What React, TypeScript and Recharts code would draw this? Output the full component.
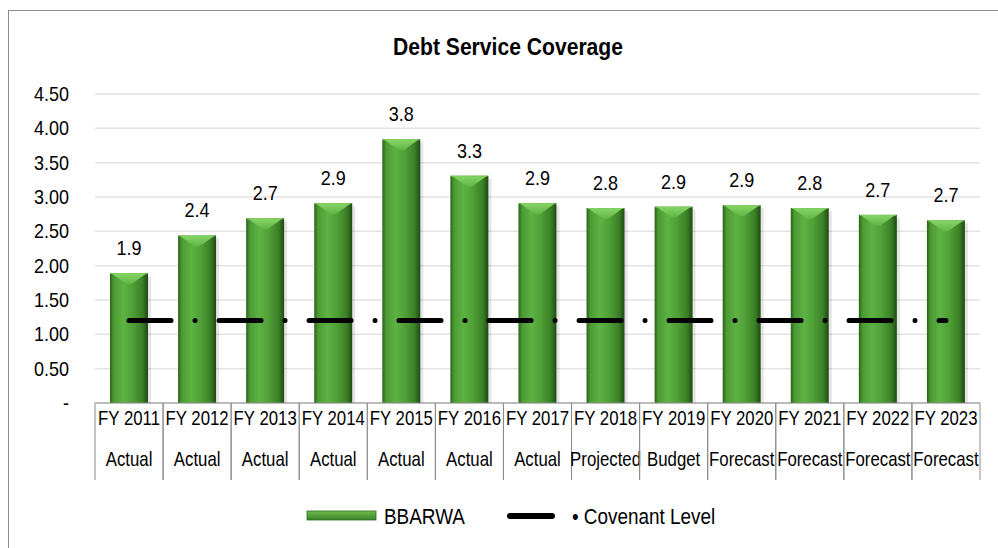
import React from 'react';
import { ComposedChart, Bar, Line, XAxis, YAxis, CartesianGrid, LabelList, Legend } from 'recharts';

const years = ['FY 2011', 'FY 2012', 'FY 2013', 'FY 2014', 'FY 2015', 'FY 2016', 'FY 2017', 'FY 2018', 'FY 2019', 'FY 2020', 'FY 2021', 'FY 2022', 'FY 2023'];
const phases = ['Actual', 'Actual', 'Actual', 'Actual', 'Actual', 'Actual', 'Actual', 'Projected', 'Budget', 'Forecast', 'Forecast', 'Forecast', 'Forecast'];
const bbarwa = [1.89, 2.44, 2.69, 2.91, 3.84, 3.31, 2.91, 2.84, 2.86, 2.88, 2.84, 2.74, 2.66];
const covenant = [1.2, 1.2, 1.2, 1.2, 1.2, 1.2, 1.2, 1.2, 1.2, 1.2, 1.2, 1.2, 1.2];
const yTicks = [0, 0.5, 1, 1.5, 2, 2.5, 3, 3.5, 4, 4.5];

const data = years.map((y, i) => ({ year: y, phase: phases[i], bbarwa: bbarwa[i], covenant: covenant[i] }));

const FONT = "'Liberation Sans', Arial, sans-serif";
const PLOT_LEFT = 95;
const PLOT_RIGHT = 980;
const BAND = (PLOT_RIGHT - PLOT_LEFT) / years.length;

const NText = ({ x, y, k, size, anchor, bold, children }: any) => (
  <text
    transform={`translate(${x},${y}) scale(${k},1)`}
    x={0}
    y={0}
    textAnchor={anchor || 'start'}
    fontSize={size}
    fontWeight={bold ? 'bold' : 'normal'}
    fill="#000"
    style={{ fontFamily: FONT }}
  >
    {children}
  </text>
);

const XTick = (props: any) => {
  const { x, y, payload } = props;
  const i = years.indexOf(payload.value);
  return (
    <g>
      <line x1={x - BAND / 2} x2={x - BAND / 2} y1={y} y2={y + 77} stroke="#8c8c8c" strokeWidth={1} />
      <line x1={x + BAND / 2} x2={x + BAND / 2} y1={y} y2={y + 77} stroke="#8c8c8c" strokeWidth={1} />
      <NText x={x} y={y + 22} k={0.84} size={20} anchor="middle">{payload.value}</NText>
      <NText x={x} y={y + 63} k={0.84} size={20} anchor="middle">{phases[i]}</NText>
    </g>
  );
};

const YTick = (props: any) => {
  const { x, y, payload } = props;
  const v = payload.value as number;
  return (
    <NText x={x} y={y + 7} k={0.9} size={20} anchor="end">{v === 0 ? '-' : v.toFixed(2)}</NText>
  );
};

const ValueLabel = (props: any) => {
  const { x, y, width, value } = props;
  return (
    <NText x={x + width / 2} y={y - 18} k={0.9} size={20} anchor="middle">{Number(value).toFixed(1)}</NText>
  );
};

const BarShape = (props: any) => {
  const { x, y, width, height } = props;
  if (!height || height <= 0) return null;
  const b = Math.min(11, height);
  return (
    <g>
      <rect x={x + width} y={y + 3} width={3} height={height - 3} fill="#000" opacity={0.1} />
      <rect x={x} y={y} width={width} height={height} fill="url(#barGrad)" />
      <polygon
        points={`${x + 2},${y + 0.5} ${x + width - 2},${y + 0.5} ${x + width * 0.56},${y + b} ${x + width * 0.44},${y + b}`}
        fill="url(#bevelGrad)"
      />
      <line x1={x + 1} x2={x + width - 1} y1={y + 0.5} y2={y + 0.5} stroke="#7fd05e" strokeWidth={1} />
    </g>
  );
};

const LegendContent = () => (
  <svg width={998} height={40}>
    <rect x={307} y={14} width={69} height={9} fill="url(#legGrad)" stroke="#2f6b1f" strokeWidth={0.8} />
    <NText x={384} y={27} k={0.86} size={22}>BBARWA</NText>
    <line x1={510} x2={552} y1={19} y2={19} stroke="#000" strokeWidth={6} strokeLinecap="round" />
    <NText x={572} y={27} k={0.86} size={22}>• Covenant Level</NText>
  </svg>
);

export default function App() {
  return (
    <div style={{ position: 'absolute', left: 0, top: 0, width: 998, height: 548, overflow: 'hidden', background: '#fff', fontFamily: FONT }}>
      <div style={{ position: 'absolute', left: 8, top: 10, width: 1100, height: 600, border: '1px solid #8c8c8c' }} />
      <svg style={{ position: 'absolute', left: 0, top: 0 }} width={998} height={70}>
        <NText x={508} y={55} k={0.88} size={24} anchor="middle" bold>Debt Service Coverage</NText>
      </svg>
      <div style={{ position: 'absolute', left: 0, top: 0 }}>
        <ComposedChart width={998} height={548} data={data} margin={{ top: 94, right: 998 - PLOT_RIGHT, left: 0, bottom: 67 }} barSize={38}>
          <defs>
            <linearGradient id="barGrad" x1="0" y1="0" x2="1" y2="0">
              <stop offset="0%" stopColor="#2a6219" />
              <stop offset="10%" stopColor="#4c9b33" />
              <stop offset="35%" stopColor="#5db243" />
              <stop offset="60%" stopColor="#4f9f36" />
              <stop offset="85%" stopColor="#3b8027" />
              <stop offset="100%" stopColor="#1f4a13" />
            </linearGradient>
            <linearGradient id="bevelGrad" x1="0" y1="0" x2="0" y2="1">
              <stop offset="0%" stopColor="#86d466" />
              <stop offset="100%" stopColor="#5fb545" />
            </linearGradient>
            <linearGradient id="legGrad" x1="0" y1="0" x2="0" y2="1">
              <stop offset="0%" stopColor="#6cbd4d" />
              <stop offset="100%" stopColor="#3d8128" />
            </linearGradient>
          </defs>
          <CartesianGrid vertical={false} stroke="#e3e3e3" strokeWidth={1.5} />
          <XAxis
            dataKey="year"
            interval={0}
            height={78}
            tickLine={false}
            tickSize={0}
            tickMargin={0}
            axisLine={{ stroke: '#8c8c8c', strokeWidth: 1 }}
            tick={<XTick />}
          />
          <YAxis
            domain={[0, 4.5]}
            ticks={yTicks}
            interval={0}
            width={PLOT_LEFT}
            axisLine={false}
            tickLine={false}
            tickSize={0}
            tickMargin={26}
            tick={<YTick />}
          />
          <Bar dataKey="bbarwa" name="BBARWA" shape={<BarShape />} isAnimationActive={false}>
            <LabelList dataKey="bbarwa" position="top" content={<ValueLabel />} />
          </Bar>
          <Line
            dataKey="covenant"
            name="Covenant Level"
            stroke="#000"
            strokeWidth={5}
            strokeDasharray="42 24 0 24"
            strokeLinecap="round"
            dot={false}
            activeDot={false}
            isAnimationActive={false}
          />
          <Legend layout="horizontal" verticalAlign="middle" align="center" wrapperStyle={{ left: 0, top: 497, width: 998, height: 40 }} content={<LegendContent />} />
        </ComposedChart>
      </div>
    </div>
  );
}
